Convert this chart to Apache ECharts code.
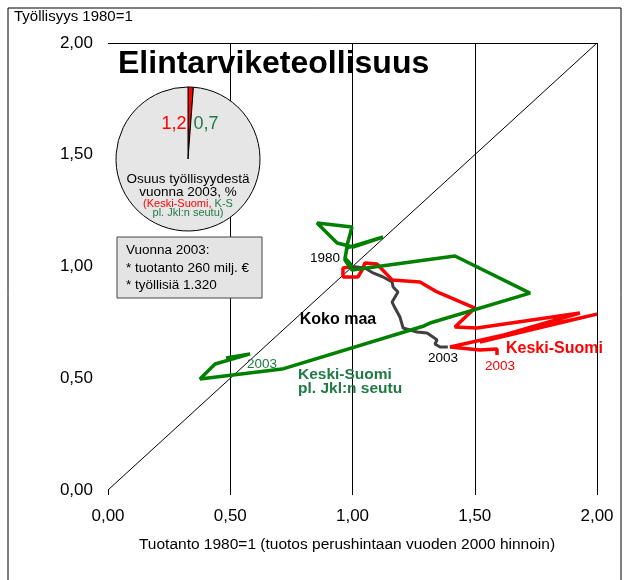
<!DOCTYPE html>
<html>
<head>
<meta charset="utf-8">
<script src="https://cdn.jsdelivr.net/npm/echarts@6/dist/echarts.min.js"></script>
<style>html,body{margin:0;padding:0;background:#fff}#c{width:629px;height:580px}</style>
</head>
<body>
<div id="c"></div>
<script>
// Tick values (x and y both 0..2 step 0.5)
var tickValues = [0, 0.5, 1.0, 1.5, 2.0];

// Koko maa (whole country), 1980 -> 2003, [production, employment]
var kokoMaa = [
  [1.000,1.000],[1.051,0.993],[1.084,0.971],[1.125,0.953],[1.162,0.931],
  [1.166,0.908],[1.186,0.886],[1.174,0.864],[1.162,0.841],[1.174,0.814],
  [1.194,0.774],[1.207,0.725],[1.235,0.716],[1.264,0.707],[1.305,0.702],
  [1.329,0.685],[1.346,0.671],[1.337,0.653],[1.358,0.640],[1.390,0.640]
];

// Keski-Suomi
var keskiSuomi = [
  [1.000,1.000],[0.961,0.993],[0.961,0.953],[1.022,0.953],[1.039,0.984],
  [1.051,1.016],[1.100,1.011],[1.162,0.940],[1.276,0.931],[1.346,0.886],
  [1.501,0.814],[1.419,0.729],[1.509,0.725],[1.930,0.792],[1.521,0.662],
  [2.000,0.787],[1.399,0.640],[1.521,0.626],[1.591,0.631],[1.591,0.604]
];

// Keski-Suomi pl. Jkl:n seutu
var ksPlJkl = [
  [1.000,1.000],[0.969,1.038],[0.978,1.083],[1.125,1.132],[1.002,1.087],
  [0.937,1.105],[0.855,1.195],[0.998,1.177],[0.978,1.096],[0.969,1.029],
  [0.998,0.984],[1.419,1.047],[1.726,0.881],[1.317,0.747],[1.292,0.734],
  [0.712,0.541],[0.376,0.497],[0.438,0.564],[0.581,0.609],[0.483,0.591]
];

// Diagonal reference line
var diagonal = [[0,0],[2,2]];

// Pie: share of employment 2003, %
var pieShare = [1.2, 98.8];
var pieLabels = ['1,2', '0,7'];

var fmt = function(v){ return v.toFixed(2).replace('.', ','); };
var F = 'Liberation Sans, Arial, sans-serif';
var G = '#1f7a45';

var chart = echarts.init(document.getElementById('c'), null, {renderer:'canvas'});
chart.setOption({
  animation: false,
  backgroundColor: '#fff',
  grid: {left:108, right:32, top:43, bottom:90, containLabel:false},
  xAxis: {
    type:'value', min:0, max:2, interval:0.5,
    axisLine:{show:false},
    axisTick:{show:true, length:5, lineStyle:{color:'#000', width:1}},
    axisLabel:{formatter:fmt, color:'#000', fontSize:17, fontFamily:F, margin:18},
    splitLine:{show:true, lineStyle:{color:['rgba(0,0,0,0)','#000','#000','#000','#000'], width:1}}
  },
  yAxis: {
    type:'value', min:0, max:2, interval:0.5,
    axisLine:{show:false}, axisTick:{show:false},
    axisLabel:{formatter:fmt, color:'#000', fontSize:17, fontFamily:F, margin:15},
    splitLine:{show:true, lineStyle:{color:['rgba(0,0,0,0)','rgba(0,0,0,0)','rgba(0,0,0,0)','rgba(0,0,0,0)','#000'], width:1}}
  },
  series: [
    {type:'line', data:diagonal, symbol:'none', silent:true, lineStyle:{color:'#000', width:1}, z:2},
    {type:'line', name:'Koko maa', data:kokoMaa, symbol:'none', lineStyle:{color:'#404040', width:3}, z:3},
    {type:'line', name:'Keski-Suomi', data:keskiSuomi, symbol:'none', lineStyle:{color:'#ff0000', width:3.5}, z:4},
    {type:'line', name:'Keski-Suomi pl. Jkl:n seutu', data:ksPlJkl, symbol:'none', lineStyle:{color:'#008000', width:3.5}, z:5},
    {type:'pie', center:[188,159], radius:72, startAngle:90, clockwise:true, silent:true,
     label:{show:false}, labelLine:{show:false}, z:6,
     itemStyle:{borderColor:'#000', borderWidth:1},
     data:[{value:pieShare[0], itemStyle:{color:'#ff0000'}},{value:pieShare[1], itemStyle:{color:'#e6e6e6'}}]}
  ],
  graphic: [
    {type:'rect', shape:{x:8, y:8, width:613, height:590}, style:{fill:'none', stroke:'#000', lineWidth:1}, z:1, silent:true},
    {type:'text', left:14, top:9, style:{text:'Työllisyys 1980=1', font:'15px '+F, fill:'#000'}},
    {type:'text', x:118, y:64, style:{text:'Elintarviketeollisuus', font:'bold 32px '+F, fill:'#000', textVerticalAlign:'middle'}, z:10},
    {type:'text', x:174, y:124, style:{text:pieLabels[0], font:'18px '+F, fill:'#ff0000', textAlign:'center', textVerticalAlign:'middle'}, z:10},
    {type:'text', x:206, y:124, style:{text:pieLabels[1], font:'18px '+F, fill:G, textAlign:'center', textVerticalAlign:'middle'}, z:10},
    {type:'text', x:188, y:179, style:{text:'Osuus työllisyydestä', font:'13.5px '+F, fill:'#000', textAlign:'center', textVerticalAlign:'middle'}, z:10},
    {type:'text', x:188, y:192, style:{text:'vuonna 2003, %', font:'13.5px '+F, fill:'#000', textAlign:'center', textVerticalAlign:'middle'}, z:10},
    {type:'text', x:188, y:204, style:{rich:{r:{fill:'#ff0000', font:'11px '+F}, g:{fill:G, font:'11px '+F}}, text:'{r|(Keski-Suomi, }{g|K-S}', textAlign:'center', textVerticalAlign:'middle'}, z:10},
    {type:'text', x:188, y:213, style:{text:'pl. Jkl:n seutu)', font:'11px '+F, fill:G, textAlign:'center', textVerticalAlign:'middle'}, z:10},
    {type:'rect', shape:{x:117, y:237, width:145, height:61}, style:{fill:'#e4e4e4', stroke:'#444', lineWidth:1}, z:8},
    {type:'text', x:126, y:250, style:{text:'Vuonna 2003:', font:'13.5px '+F, fill:'#000', textVerticalAlign:'middle'}, z:10},
    {type:'text', x:126, y:268, style:{text:'* tuotanto 260 milj. €', font:'13.5px '+F, fill:'#000', textVerticalAlign:'middle'}, z:10},
    {type:'text', x:126, y:285, style:{text:'* työllisiä 1.320', font:'13.5px '+F, fill:'#000', textVerticalAlign:'middle'}, z:10},
    {type:'text', x:325, y:258, style:{text:'1980', font:'13.5px '+F, fill:'#000', textAlign:'center', textVerticalAlign:'middle'}, z:10},
    {type:'text', x:338, y:320, style:{text:'Koko maa', font:'bold 16px '+F, fill:'#000', textAlign:'center', textVerticalAlign:'middle'}, z:10},
    {type:'text', x:443, y:358, style:{text:'2003', font:'13.5px '+F, fill:'#000', textAlign:'center', textVerticalAlign:'middle'}, z:10},
    {type:'text', x:506, y:349, style:{text:'Keski-Suomi', font:'bold 16px '+F, fill:'#ff0000', textVerticalAlign:'middle'}, z:10},
    {type:'text', x:500, y:366, style:{text:'2003', font:'13.5px '+F, fill:'#ff0000', textAlign:'center', textVerticalAlign:'middle'}, z:10},
    {type:'text', x:262, y:364, style:{text:'2003', font:'13.5px '+F, fill:G, textAlign:'center', textVerticalAlign:'middle'}, z:10},
    {type:'text', x:298, y:375, style:{text:'Keski-Suomi', font:'bold 15.5px '+F, fill:G, textVerticalAlign:'middle'}, z:10},
    {type:'text', x:298, y:389, style:{text:'pl. Jkl:n seutu', font:'bold 15.5px '+F, fill:G, textVerticalAlign:'middle'}, z:10},
    {type:'text', x:347, y:545, style:{text:'Tuotanto 1980=1 (tuotos perushintaan vuoden 2000 hinnoin)', font:'15.5px '+F, fill:'#000', textAlign:'center', textVerticalAlign:'middle'}, z:10}
  ]
});
</script>
</body>
</html>
